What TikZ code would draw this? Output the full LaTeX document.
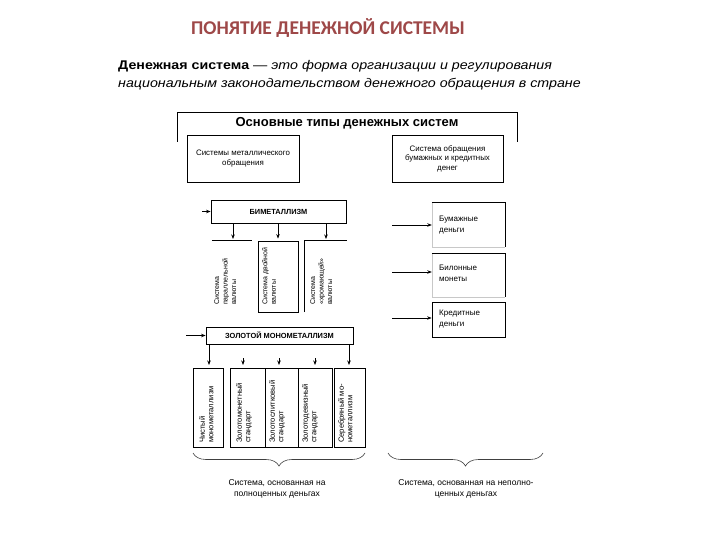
\documentclass[tikz,border=0pt]{standalone}
\usepackage{fontspec}
\setmainfont{Liberation Sans}
\newfontfamily\titlefont{Carlito}
\newfontfamily\deffont[FakeStretch=1.13]{Liberation Sans}
\usetikzlibrary{arrows.meta,decorations.pathreplacing}
\definecolor{titlered}{RGB}{158,72,72}
\definecolor{faint}{RGB}{200,200,200}
\begin{document}
\begin{tikzpicture}[x=1pt,y=-1pt,
  box/.style={draw=black, line width=0.8pt, inner sep=0pt},
  nobox/.style={inner sep=0pt},
  arr/.style={-{Stealth[length=4.5pt,width=3.5pt]}, line width=0.7pt},
  edge/.style={line width=0.8pt},
  fedge/.style={line width=0.6pt, draw=faint},
  small/.style={font=\fontsize{7.9}{9.5}\selectfont, align=center},
  rtext/.style={font=\fontsize{8}{11}\selectfont, align=left, anchor=west, inner sep=0pt},
  vtext/.style={rotate=90, anchor=north west, align=left, inner sep=0pt, font=\fontsize{7}{8.5}\selectfont},
  vtextb/.style={rotate=90, anchor=north west, align=left, inner sep=0pt, font=\fontsize{7.6}{8.5}\selectfont},
  bold/.style={font=\bfseries\fontsize{7.4}{9}\selectfont},
  brace/.style={decorate, decoration={brace, amplitude=13pt, mirror}, line width=0.6pt, draw=black!75},
]
\useasboundingbox (0,0) rectangle (720,540);

% title
\node[font=\titlefont\bfseries\fontsize{19.5}{22}\selectfont, text=titlered] (title) at (328,28) {ПОНЯТИЕ ДЕНЕЖНОЙ СИСТЕМЫ};

% definition
\node[anchor=north west, align=left, inner sep=0pt, font=\deffont\fontsize{12.6}{18}\selectfont] (def) at (118,60)
  {\textbf{Денежная система} — \textit{это форма организации и регулирования}\\
   \textit{национальным законодательством денежного обращения в стране}};

% header frame
\coordinate (hl) at (177,142);
\coordinate (hlt) at (177,112);
\coordinate (hrt) at (517,112);
\coordinate (hr) at (517,142);
\draw[edge] (hl) -- (hlt) -- (hrt) -- (hr);
\node[font=\bfseries\fontsize{13}{15}\selectfont] (hdr) at (347,123) {Основные типы денежных систем};

% two type boxes
\node[box, minimum width=112, minimum height=47, small] (metal) at (243,158.5) {Системы металлического\\обращения};
\node[box, minimum width=111, minimum height=47, small] (paper) at (447.5,158.5) {Система обращения\\бумажных и кредитных\\денег};

% bimetallism
\node[box, minimum width=135, minimum height=23, bold] (bim) at (278.5,211.5) {БИМЕТАЛЛИЗМ};
\coordinate (bimin) at (202,211.5);
\draw[arr] (bimin) -- (bim.west);

\node[nobox, minimum width=40, minimum height=71] (b1) at (232,276.5) {};
\node[box, minimum width=40, minimum height=71] (b2) at (278,276.5) {};
\node[nobox, minimum width=42, minimum height=71] (b3) at (326,276.5) {};
\draw[edge] (b1.north west) -- (b1.north east);
\draw[edge] (b3.south west) -- (b3.north west) -- (b3.north east);

\draw[arr] (bim.south -| 233,0) -- (233,239);
\draw[arr] (bim.south -| b2.north) -- ([yshift=2pt]b2.north);
\draw[arr] (bim.south -| 326,0) -- (326,239);

\node[vtext] (t1) at (214,305) {Система\\параллельной\\валюты};
\node[vtext] (t2) at (262,305) {Система двойной\\валюты};
\node[vtext] (t3) at (310,305) {Система\\«хромающей»\\валюты};

% gold monometallism
\node[box, minimum width=147, minimum height=17, bold] (gold) at (279.5,335.5) {ЗОЛОТОЙ МОНОМЕТАЛЛИЗМ};
\coordinate (goldin) at (186,335.5);
\draw[arr] (goldin) -- (gold.west);

\node[box, minimum width=30, minimum height=79] (ga) at (208,407.5) {};
\node[box, minimum width=35, minimum height=79] (gb1) at (247.5,407.5) {};
\node[box, minimum width=33, minimum height=79] (gb2) at (281.5,407.5) {};
\node[box, minimum width=34, minimum height=79] (gb3) at (315,407.5) {};
\node[box, minimum width=31, minimum height=79] (gc) at (349.5,407.5) {};

\draw[arr] (gold.south -| 209,0) -- (209,365);
\draw[arr] (gold.south -| 349,0) -- (349,365);
\coordinate (s1) at (243,358);
\coordinate (s2) at (279,358);
\coordinate (s3) at (315,358);
\draw[arr] (s1) -- (243,365);
\draw[arr] (s2) -- (279,365);
\draw[arr] (s3) -- (315,365);

\node[vtextb] (ta) at (199,443) {Чистый\\монометаллизм};
\node[vtextb] (tb1) at (236,443) {Золотомонетный\\стандарт};
\node[vtextb] (tb2) at (269,443) {Золотослитковый\\стандарт};
\node[vtextb] (tb3) at (302,443) {Золотодевизный\\стандарт};
\node[vtextb] (tc) at (338,443) {Серебряный мо-\\нометаллизм};

% right column
\node[nobox, minimum width=73, minimum height=44] (r1) at (468.5,225) {};
\node[nobox, minimum width=73, minimum height=43] (r2) at (468.5,275.5) {};
\node[box, minimum width=73, minimum height=35] (r3) at (468.5,319.5) {};
\draw[fedge] (r1.north west) -- (r1.south west) -- (r1.south east);
\draw[edge] (r1.north west) -- (r1.north east) -- (r1.south east);
\draw[fedge] (r2.north west) -- (r2.south west) -- (r2.south east);
\draw[edge] (r2.north west) -- (r2.north east) -- (r2.south east);

\node[rtext] (rt1) at (439,225) {Бумажные\\деньги};
\node[rtext] (rt2) at (439,273) {Билонные\\монеты};
\node[rtext] (rt3) at (439,319) {Кредитные\\деньги};

\coordinate (a1) at (392,225);
\coordinate (a2) at (392,272);
\coordinate (a3) at (392,318);
\draw[arr] (a1) -- (a1 -| r1.west);
\draw[arr] (a2) -- (a2 -| r2.west);
\draw[arr] (a3) -- (a3 -| r3.west);

% braces
\coordinate (bl1) at (193,453);
\coordinate (bl2) at (365,453);
\coordinate (br1) at (388,453);
\coordinate (br2) at (543,453);
\draw[brace] (bl1) -- (bl2);
\draw[brace] (br1) -- (br2);

\node[font=\fontsize{8.5}{11}\selectfont, align=center] (lbl) at (277,489) {Система, основанная на\\полноценных деньгах};
\node[font=\fontsize{8.5}{11}\selectfont, align=center] (lbr) at (466,489) {Система, основанная на неполно-\\ценных деньгах};
\end{tikzpicture}
\end{document}
